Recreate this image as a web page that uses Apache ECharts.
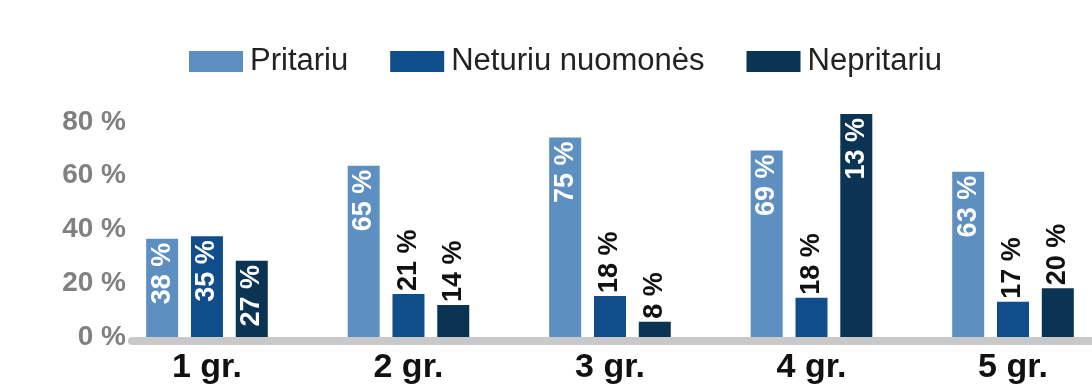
<!DOCTYPE html>
<html>
<head>
<meta charset="utf-8">
<script src="https://cdn.jsdelivr.net/npm/echarts@6/dist/echarts.min.js"></script>
<style>
  html, body { margin: 0; padding: 0; background: #ffffff; }
  #chart { width: 1092px; height: 389px; }
</style>
</head>
<body>
<div id="chart"></div>
<script>
const categories = ['1 gr.', '2 gr.', '3 gr.', '4 gr.', '5 gr.'];
const seriesNames = ['Pritariu', 'Neturiu nuomonės', 'Nepritariu'];
const pritariu = [36.5, 63.7, 74.2, 69.3, 61.4];
const neturiu = [37.5, 16.0, 15.2, 14.6, 13.1];
const nepritariu = [28.3, 11.9, 5.7, 82.9, 18.1];
const pritariuLabels = ['38 %', '65 %', '75 %', '69 %', '63 %'];
const neturiuLabels = ['35 %', '21 %', '18 %', '18 %', '17 %'];
const nepritariuLabels = ['27 %', '14 %', '8 %', '13 %', '20 %'];
const colors = ['#5e8fc1', '#0f4e8a', '#0b3353'];

const FONT = "'Liberation Sans', Arial, sans-serif";

function buildData(values, labels) {
  return values.map(function (v, i) {
    const inside = v > 25;
    return {
      value: [i, v],
      label: inside ? {
        show: true, position: 'insideTop', rotate: 90, align: 'right', verticalAlign: 'middle',
        distance: 4, color: '#ffffff', formatter: labels[i]
      } : {
        show: true, position: 'top', rotate: 90, align: 'left', verticalAlign: 'middle',
        distance: 3, color: '#111111', formatter: labels[i]
      }
    };
  });
}

const seriesValues = [pritariu, neturiu, nepritariu];
const seriesLabels = [pritariuLabels, neturiuLabels, nepritariuLabels];
const catIndex = categories.map(function (c, i) { return i; });

const chart = echarts.init(document.getElementById('chart'), null, { renderer: 'canvas' });
chart.setOption({
  backgroundColor: '#ffffff',
  animation: false,
  color: colors,
  textStyle: { fontFamily: FONT },
  legend: {
    left: 189, top: 46, padding: 0,
    itemWidth: 54, itemHeight: 21, itemGap: 42,
    icon: 'rect',
    textStyle: { fontSize: 31, color: '#222222', fontFamily: FONT, padding: [0, 0, 0, 2] },
    data: seriesNames
  },
  grid: { left: 132, right: 0, top: 68, bottom: 52, outerBoundsMode: 'none', containLabel: false },
  xAxis: {
    type: 'value',
    min: -0.372, max: 4.392,
    offset: 4,
    splitLine: { show: false },
    axisTick: { show: false },
    axisLine: { show: true, onZero: false, lineStyle: { color: '#c9c9c9', width: 8 } },
    axisLabel: {
      customValues: catIndex,
      fontSize: 34, fontWeight: 'bold', color: '#111111', margin: 10, fontFamily: FONT,
      formatter: function (v) { return categories[Math.round(v)]; }
    }
  },
  yAxis: {
    type: 'value',
    min: 0, max: 100, interval: 20,
    axisLine: { show: false },
    axisTick: { show: false },
    splitLine: { show: false },
    axisLabel: {
      fontSize: 28, fontWeight: 'bold', color: '#808080', margin: 6, fontFamily: FONT,
      formatter: function (v) { return v > 80 ? '' : v + ' %'; }
    }
  },
  series: seriesNames.map(function (name, s) {
    return {
      name: name,
      type: 'bar',
      barWidth: 32,
      barGap: '40%',
      label: { fontSize: 27, fontWeight: 'bold', fontFamily: FONT },
      data: buildData(seriesValues[s], seriesLabels[s])
    };
  })
});
</script>
</body>
</html>
